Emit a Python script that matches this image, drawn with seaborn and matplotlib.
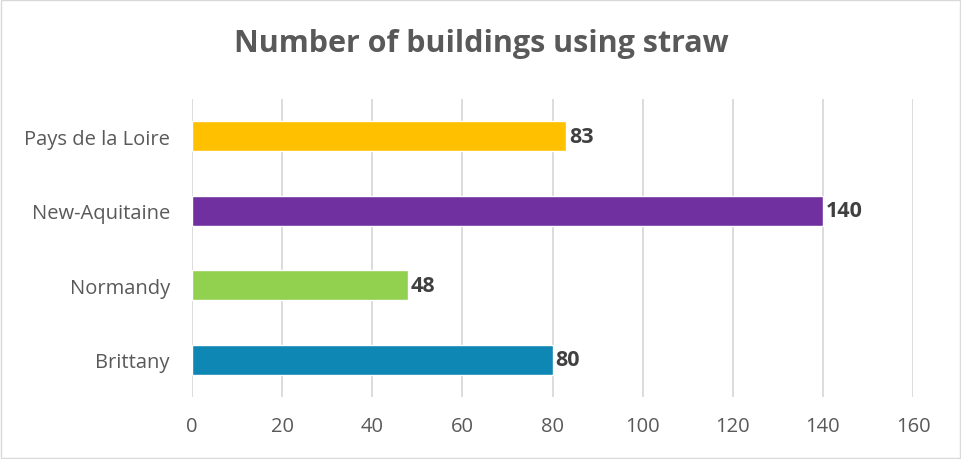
import matplotlib
matplotlib.use("Agg")
import matplotlib.pyplot as plt
import seaborn as sns
import pandas as pd

# Data
regions = ["Pays de la Loire", "New-Aquitaine", "Normandy", "Brittany"]
buildings = [83, 140, 48, 80]
bar_colors = ["#FFC000", "#7030A0", "#92D050", "#0E87B4"]
x_ticks = [0, 20, 40, 60, 80, 100, 120, 140, 160]

sns.set_theme(style="white")
plt.rcParams["font.family"] = ["Open Sans", "DejaVu Sans"]

df = pd.DataFrame({"region": regions, "count": buildings})

fig = plt.figure(figsize=(9.62, 4.60), dpi=100)
ax = fig.add_axes([0.1996, 0.135, 0.7495, 0.648])

sns.barplot(data=df, x="count", y="region", hue="region", palette=bar_colors,
            order=regions, hue_order=regions, width=0.4, legend=False,
            saturation=1, ax=ax, zorder=3)

ax.set_xlim(0, 160)
ax.set_ylim(3.5, -0.5)
ax.set_xticks(x_ticks)
ax.xaxis.grid(True, color="#D9D9D9", linewidth=1.3, zorder=0)
ax.yaxis.grid(False)
for s in ax.spines.values():
    s.set_visible(False)
ax.tick_params(axis="both", length=0, labelsize=14.5, labelcolor="#595959")
ax.tick_params(axis="y", pad=16)
ax.tick_params(axis="x", pad=14)
ax.set_xlabel("")
ax.set_ylabel("")

for i, v in enumerate(buildings):
    ax.annotate(str(v), (v, i), xytext=(2, 0), textcoords="offset points",
                va="center", ha="left", fontsize=15.5, fontweight="bold", color="#404040")

fig.text(0.5, 0.905, "Number of buildings using straw", ha="center", va="center",
         fontsize=22, fontweight="bold", color="#595959")

# thin border round the whole chart
fig.patches.append(plt.Rectangle((0.001, 0.002), 0.997, 0.995, transform=fig.transFigure,
                                 fill=False, edgecolor="#D9D9D9", linewidth=1))

fig.savefig("out.png", dpi=100)
